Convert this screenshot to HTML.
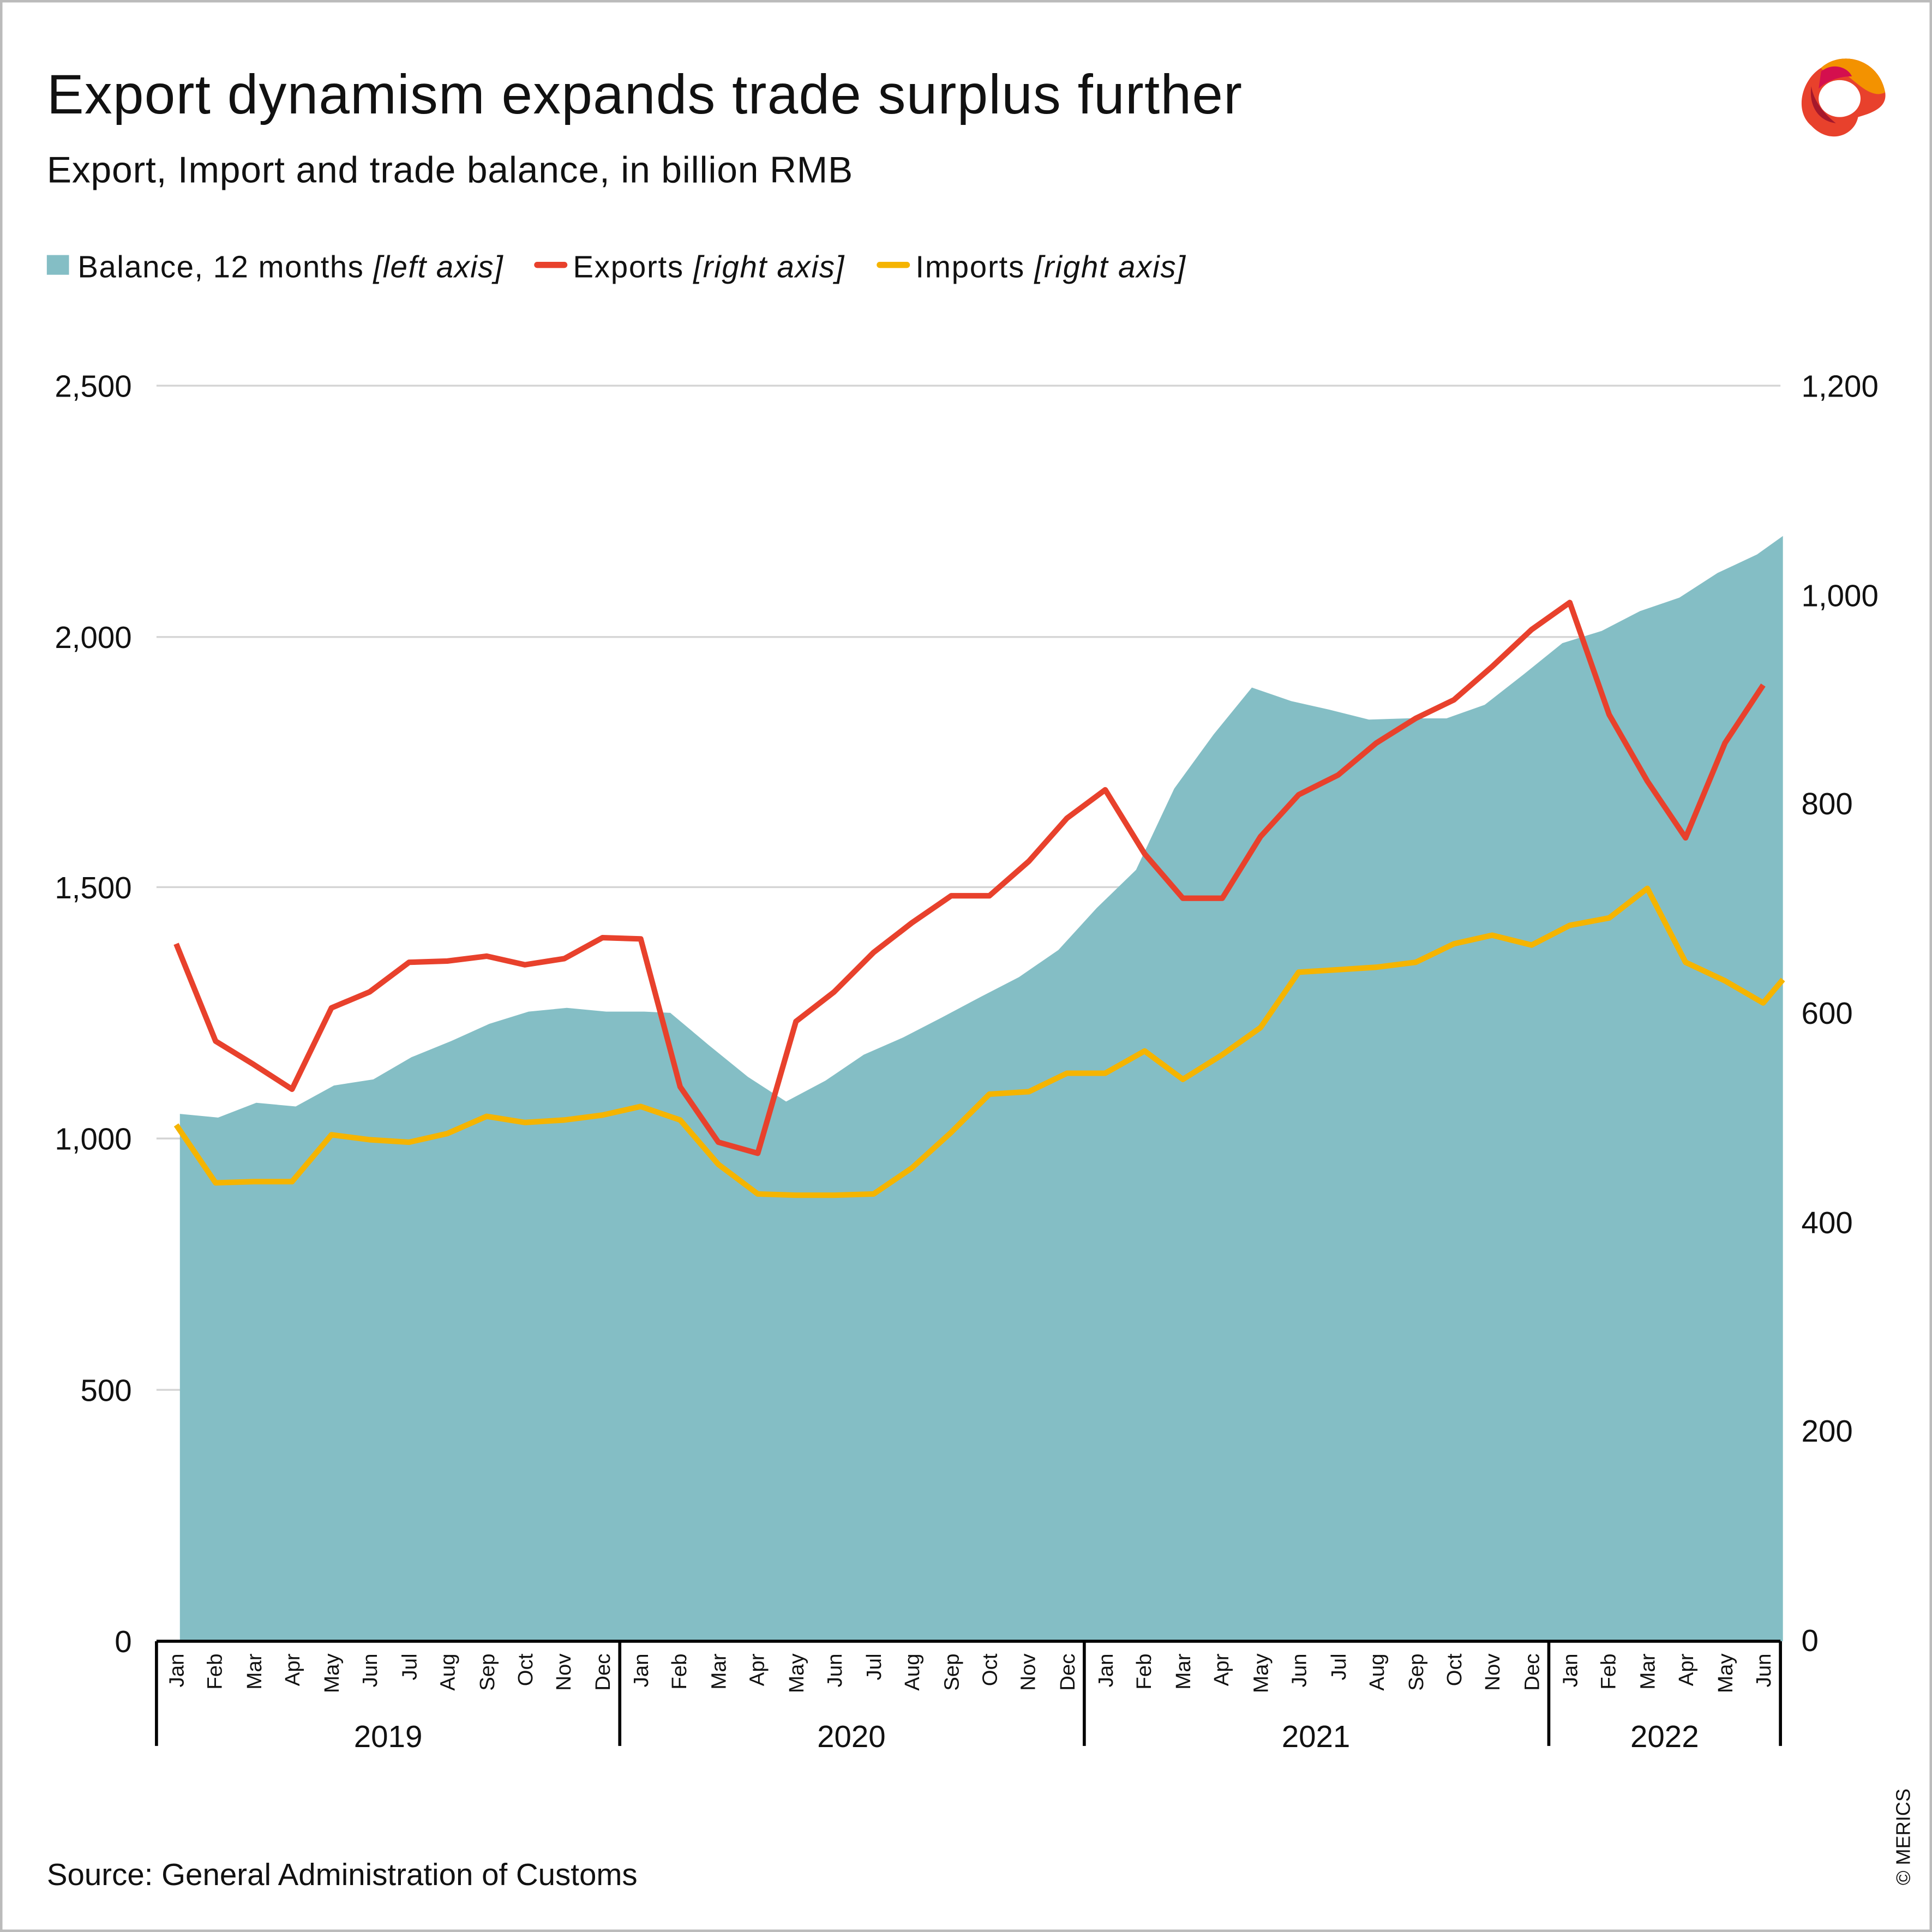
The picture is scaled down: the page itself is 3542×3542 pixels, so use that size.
<!DOCTYPE html>
<html><head><meta charset="utf-8"><style>
html,body{margin:0;padding:0;background:#fff}
svg{display:block}
text{font-family:"Liberation Sans","DejaVu Sans",sans-serif;fill:#111}
</style></head><body>
<svg width="3542" height="3542" viewBox="0 0 1568 1568" xmlns="http://www.w3.org/2000/svg">
<rect x="1" y="1" width="1566" height="1566" fill="#fff" stroke="#bbb" stroke-width="2"/>
<text x="38" y="92" font-size="45" textLength="970" lengthAdjust="spacing">Export dynamism expands trade surplus further</text>
<text x="38" y="148" font-size="30" textLength="654" lengthAdjust="spacing">Export, Import and trade balance, in billion RMB</text>
<g>
<path d="M1478,55 C1495,40 1525,48 1530,75 C1532,88 1518,92 1508,95 C1505,110 1485,118 1470,102 C1456,90 1462,65 1478,55Z" fill="#e8412c"/>
<path d="M1478,55 C1495,40 1525,48 1530,75 C1520,80 1510,70 1500,62 C1490,58 1480,60 1478,55Z" fill="#f39200"/>
<path d="M1470,70 C1468,85 1475,98 1490,100 C1480,92 1472,82 1470,70Z" fill="#a5182b"/>
<ellipse cx="1493" cy="80" rx="17" ry="15" fill="#fff"/>
<path d="M1478,58 C1488,50 1500,55 1503,62 C1492,62 1482,66 1476,72Z" fill="#d40f4e"/>
</g>
<rect x="38" y="207" width="18" height="16" fill="#84bec5"/>
<text x="63" y="225" font-size="25" textLength="345" lengthAdjust="spacing">Balance, 12 months <tspan font-style="italic">[left axis]</tspan></text>
<line x1="436" y1="215" x2="458" y2="215" stroke="#e8412c" stroke-width="5" stroke-linecap="round"/>
<text x="465" y="225" font-size="25" textLength="220" lengthAdjust="spacing">Exports <tspan font-style="italic">[right axis]</tspan></text>
<line x1="714" y1="215" x2="736" y2="215" stroke="#f5b400" stroke-width="5" stroke-linecap="round"/>
<text x="743" y="225" font-size="25" textLength="219" lengthAdjust="spacing">Imports <tspan font-style="italic">[right axis]</tspan></text>
<g stroke="#d4d4d4" stroke-width="1.5">
<line x1="127" y1="313" x2="1445" y2="313"/><line x1="127" y1="517" x2="1445" y2="517"/>
<line x1="127" y1="720" x2="1445" y2="720"/><line x1="127" y1="924" x2="1445" y2="924"/>
<line x1="127" y1="1128" x2="1445" y2="1128"/>
</g>
<g font-size="25" text-anchor="end">
<text x="107" y="322">2,500</text><text x="107" y="526">2,000</text><text x="107" y="729">1,500</text>
<text x="107" y="933">1,000</text><text x="107" y="1137">500</text><text x="107" y="1341">0</text>
</g>
<g font-size="25">
<text x="1462" y="322">1,200</text><text x="1462" y="492">1,000</text><text x="1462" y="661">800</text>
<text x="1462" y="831">600</text><text x="1462" y="1001">400</text><text x="1462" y="1170">200</text><text x="1462" y="1340">0</text>
</g>
<path fill="#84bec5" d="M146,1332 L146,904 L177,907 L208,895 L240,898 L271,881 L303,876 L334,858 L366,845 L397,831 L429,821 L460,818 L492,821 L523,821 L544,822 L575,848 L607,874 L638,894 L670,877 L701,856 L733,842 L764,826 L796,809 L827,793 L859,771 L890,737 L922,706 L953,640 L985,596 L1016,558 L1048,569 L1079,576 L1111,584 L1142,583 L1174,583 L1205,572 L1237,547 L1268,522 L1300,512 L1331,496 L1363,485 L1394,465 L1426,450 L1447,435 L1447,1332Z"/>
<polyline fill="none" stroke="#f5b400" stroke-width="4.5" stroke-linejoin="round" points="143,913 175,960 206,959 237,959 269,921 300,925 332,927 363,920 395,906 426,911 458,909 489,905 520,898 552,909 583,945 615,969 646,970 677,970 709,969 740,948 772,919 803,888 835,886 866,871 897,871 929,853 960,876 992,856 1023,834 1054,789 1086,787 1117,785 1149,781 1180,766 1211,759 1243,767 1274,751 1306,745 1337,721 1368,781 1400,796 1431,814 1447,795"/>
<polyline fill="none" stroke="#e8412c" stroke-width="4.5" stroke-linejoin="round" points="143,766 175,845 206,864 237,884 269,818 300,805 332,781 363,780 395,776 426,783 458,778 489,761 520,762 552,882 583,927 615,936 646,829 677,805 709,773 740,749 772,727 803,727 835,699 866,664 897,641 929,693 960,729 992,729 1023,679 1054,645 1086,629 1117,603 1149,583 1180,568 1211,541 1243,511 1274,489 1306,580 1337,634 1368,680 1400,603 1431,556"/>
<g stroke="#000" stroke-width="2.5">
<line x1="127" y1="1332" x2="1445" y2="1332"/>
<line x1="127" y1="1332" x2="127" y2="1417"/><line x1="503" y1="1332" x2="503" y2="1417"/>
<line x1="880" y1="1332" x2="880" y2="1417"/><line x1="1257" y1="1332" x2="1257" y2="1417"/>
<line x1="1445" y1="1332" x2="1445" y2="1417"/>
</g>
<g font-size="17" id="m">
<g id="yr">
<text transform="translate(149,1342) rotate(-90)" text-anchor="end">Jan</text>
<text transform="translate(180,1342) rotate(-90)" text-anchor="end">Feb</text>
<text transform="translate(212,1342) rotate(-90)" text-anchor="end">Mar</text>
<text transform="translate(243,1342) rotate(-90)" text-anchor="end">Apr</text>
<text transform="translate(275,1342) rotate(-90)" text-anchor="end">May</text>
<text transform="translate(306,1342) rotate(-90)" text-anchor="end">Jun</text>
<text transform="translate(338,1342) rotate(-90)" text-anchor="end">Jul</text>
<text transform="translate(369,1342) rotate(-90)" text-anchor="end">Aug</text>
<text transform="translate(401,1342) rotate(-90)" text-anchor="end">Sep</text>
<text transform="translate(432,1342) rotate(-90)" text-anchor="end">Oct</text>
<text transform="translate(463,1342) rotate(-90)" text-anchor="end">Nov</text>
<text transform="translate(495,1342) rotate(-90)" text-anchor="end">Dec</text>
</g>
<use href="#yr" x="377"/>
<use href="#yr" x="754"/>
<g transform="translate(1131,0)">
<text transform="translate(149,1342) rotate(-90)" text-anchor="end">Jan</text>
<text transform="translate(180,1342) rotate(-90)" text-anchor="end">Feb</text>
<text transform="translate(212,1342) rotate(-90)" text-anchor="end">Mar</text>
<text transform="translate(243,1342) rotate(-90)" text-anchor="end">Apr</text>
<text transform="translate(275,1342) rotate(-90)" text-anchor="end">May</text>
<text transform="translate(306,1342) rotate(-90)" text-anchor="end">Jun</text>
</g>
</g>
<g font-size="25" text-anchor="middle">
<text x="315" y="1418">2019</text><text x="691" y="1418">2020</text>
<text x="1068" y="1418">2021</text><text x="1351" y="1418">2022</text>
</g>
<text x="38" y="1530" font-size="25">Source: General Administration of Customs</text>
<text transform="translate(1550,1530) rotate(-90)" font-size="16">© MERICS</text>
</svg>
</body></html>
